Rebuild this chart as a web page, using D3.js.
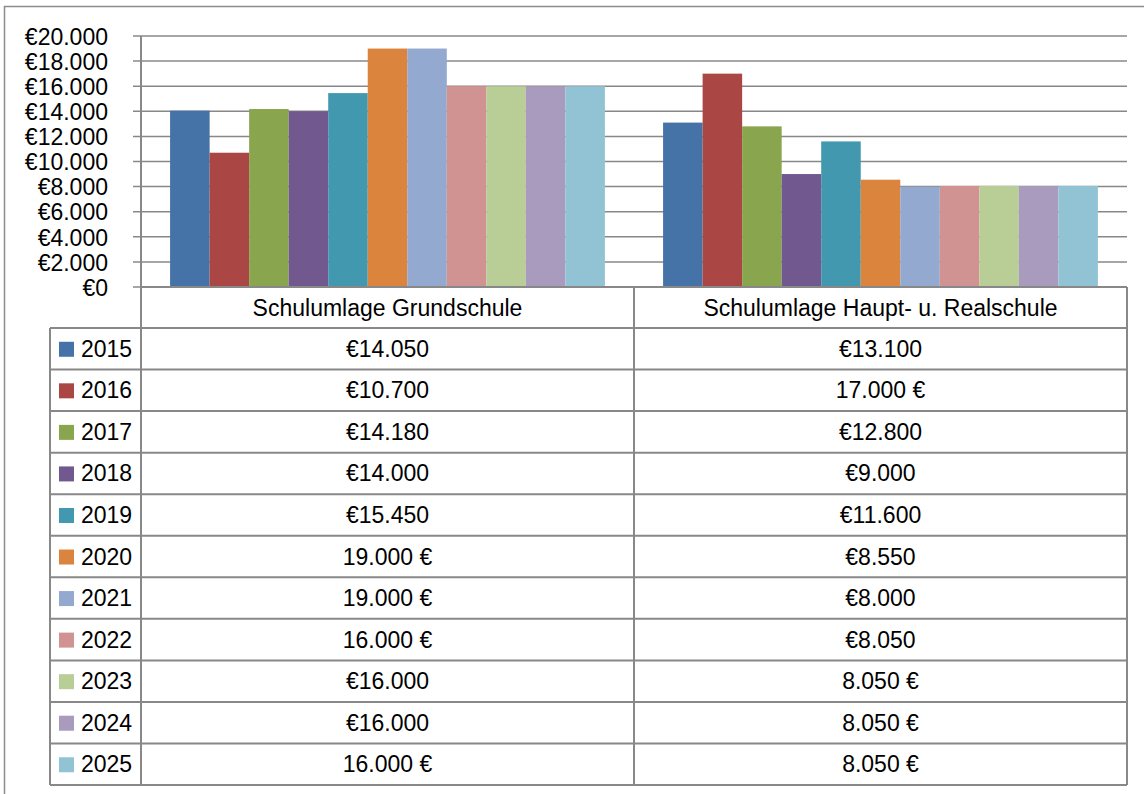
<!DOCTYPE html>
<html>
<head>
<meta charset="utf-8">
<script src="https://cdn.jsdelivr.net/npm/d3@7"></script>
<style>
  body { margin: 0; background: #fff; }
  text { font-family: "Liberation Sans", Arial, sans-serif; fill: #000; }
</style>
</head>
<body>
<div id="wrap"></div>
<script>
// 数据
const categories = ["Schulumlage Grundschule", "Schulumlage Haupt- u. Realschule"];
const years = ["2015", "2016", "2017", "2018", "2019", "2020", "2021", "2022", "2023", "2024", "2025"];
const grundschule = [14050, 10700, 14180, 14000, 15450, 19000, 19000, 16000, 16000, 16000, 16000];
const hauptReal = [13100, 17000, 12800, 9000, 11600, 8550, 8000, 8050, 8050, 8050, 8050];
// 表格里显示的文本（原图格式不统一）
const grundLabels = ["€14.050", "€10.700", "€14.180", "€14.000", "€15.450", "19.000 €", "19.000 €", "16.000 €", "€16.000", "€16.000", "16.000 €"];
const hauptLabels = ["€13.100", "17.000 €", "€12.800", "€9.000", "€11.600", "€8.550", "€8.000", "€8.050", "8.050 €", "8.050 €", "8.050 €"];
const yTicks = [0, 2000, 4000, 6000, 8000, 10000, 12000, 14000, 16000, 18000, 20000];
const colors = ["#4572A7", "#AA4643", "#89A54E", "#71588F", "#4198AF", "#DB843D", "#93A9CF", "#D19392", "#B9CD96", "#A99BBD", "#91C3D5"];

const WIDTH = 1144, HEIGHT = 794;
const LEFT = 141, RIGHT = 1127;   // 绘图区左右
const TOP = 36, BOTTOM = 287;     // 绘图区上下
const TABLE_LEFT = 50;
const HEADER_H = 41;
const ROW_H = 41.55;
const GRID = "#888888";

const series = [grundschule, hauptReal];
const labels = [grundLabels, hauptLabels];

const svg = d3.select('#wrap').append('svg')
  .attr('width', WIDTH).attr('height', HEIGHT);

// 外框
svg.append('rect')
  .attr('x', 4.5).attr('y', 6.5)
  .attr('width', WIDTH + 10).attr('height', HEIGHT + 10)
  .attr('fill', 'none').attr('stroke', '#8c8c8c').attr('stroke-width', 1.5);

// 比例尺
const yScale = d3.scaleLinear().domain([0, 20000]).range([BOTTOM, TOP]);
const x0 = d3.scaleBand().domain(categories).range([LEFT, RIGHT])
  .paddingInner(0.118).paddingOuter(0.059);
const x1 = d3.scaleBand().domain(years).range([0, x0.bandwidth()]);
const catStep = x0.step();

// 网格线
svg.append('g').selectAll('line').data(yTicks).enter().append('line')
  .attr('x1', LEFT - 8).attr('x2', RIGHT)
  .attr('y1', d => yScale(d)).attr('y2', d => yScale(d))
  .attr('stroke', GRID).attr('stroke-width', 1.5);

// y轴
const yAxis = d3.axisLeft(yScale).tickValues(yTicks).tickSize(0).tickPadding(0)
  .tickFormat(d => "€" + d3.format(",")(d).replace(/,/g, "."));
const yg = svg.append('g').attr('transform', 'translate(108,0)').call(yAxis);
yg.select('.domain').remove();
yg.selectAll('text').attr('font-size', 23).attr('dy', '0.36em')
  .style('font-family', '"Liberation Sans", Arial, sans-serif');

// 柱子
svg.append('g').selectAll('g').data(categories).enter().append('g')
  .attr('transform', d => 'translate(' + x0(d) + ',0)')
  .selectAll('rect')
  .data((d, ci) => years.map((y, i) => ({ year: y, value: series[ci][i], i: i })))
  .enter().append('rect')
  .attr('x', d => x1(d.year))
  .attr('width', x1.bandwidth())
  .attr('y', d => yScale(d.value))
  .attr('height', d => BOTTOM - yScale(d.value))
  .attr('fill', d => colors[d.i]);

// 表格
const table = svg.append('g').attr('stroke', GRID).attr('stroke-width', 2);
const tableBottom = BOTTOM + HEADER_H + ROW_H * years.length;
// 纵线
table.append('line').attr('x1', LEFT).attr('x2', LEFT).attr('y1', TOP).attr('y2', tableBottom);
categories.forEach((c, i) => {
  const xr = LEFT + catStep * (i + 1);
  table.append('line').attr('x1', xr).attr('x2', xr).attr('y1', BOTTOM).attr('y2', tableBottom);
});
table.append('line').attr('x1', TABLE_LEFT).attr('x2', TABLE_LEFT)
  .attr('y1', BOTTOM + HEADER_H).attr('y2', tableBottom);
// 横线
table.append('line').attr('x1', LEFT).attr('x2', RIGHT).attr('y1', BOTTOM).attr('y2', BOTTOM);
d3.range(years.length + 1).forEach(i => {
  const y = BOTTOM + HEADER_H + ROW_H * i;
  table.append('line').attr('x1', TABLE_LEFT).attr('x2', RIGHT).attr('y1', y).attr('y2', y);
});

// 表头
svg.append('g').selectAll('text').data(categories).enter().append('text')
  .attr('x', (d, i) => LEFT + catStep * (i + 0.5))
  .attr('y', BOTTOM + HEADER_H / 2 + 8)
  .attr('text-anchor', 'middle').attr('font-size', 23)
  .text(d => d);

// 图例列
const legend = svg.append('g').selectAll('g').data(years).enter().append('g')
  .attr('transform', (d, i) => 'translate(0,' + (BOTTOM + HEADER_H + ROW_H * (i + 0.5)) + ')');
legend.append('rect')
  .attr('x', 59).attr('y', -7).attr('width', 15).attr('height', 15)
  .attr('fill', (d, i) => colors[i]);
legend.append('text')
  .attr('x', 81).attr('y', 8).attr('font-size', 23)
  .text(d => d);

// 数值
categories.forEach((c, ci) => {
  svg.append('g').selectAll('text').data(labels[ci]).enter().append('text')
    .attr('x', LEFT + catStep * (ci + 0.5))
    .attr('y', (d, i) => BOTTOM + HEADER_H + ROW_H * (i + 0.5) + 8)
    .attr('text-anchor', 'middle').attr('font-size', 23)
    .text(d => d);
});
</script>
</body>
</html>
